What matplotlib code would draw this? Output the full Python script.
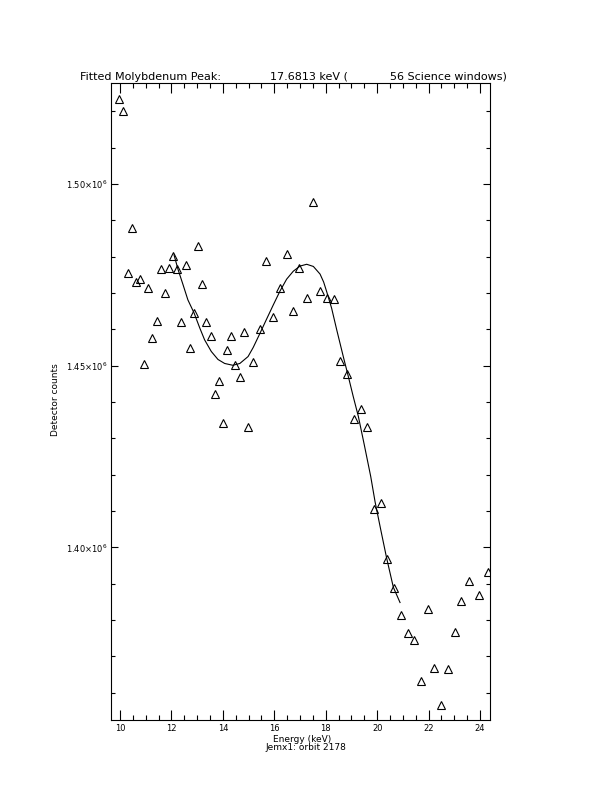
import numpy as np
import matplotlib

matplotlib.use('Agg')

import matplotlib.pyplot as plt
from matplotlib.ticker import MultipleLocator

# measured spectrum (keV, detector counts)
energy = [9.97, 10.13, 10.31, 10.47, 10.62, 10.78, 10.95, 11.10, 11.26, 11.43,
          11.60, 11.76, 11.92, 12.07, 12.23, 12.38, 12.55, 12.71, 12.88, 13.05,
          13.20, 13.36, 13.53, 13.68, 13.84, 14.00, 14.16, 14.33, 14.48, 14.66,
          14.81, 14.96, 15.17, 15.45, 15.69, 15.95, 16.22, 16.48, 16.74, 16.98,
          17.26, 17.52, 17.78, 18.04, 18.31, 18.57, 18.83, 19.10, 19.36, 19.61,
          19.88, 20.14, 20.40, 20.66, 20.92, 21.19, 21.45, 21.71, 21.97, 22.23,
          22.49, 22.76, 23.02, 23.28, 23.59, 23.95, 24.31]
counts = [1.5233, 1.5201, 1.4754, 1.4879, 1.4729, 1.4739, 1.4504, 1.4715, 1.4577, 1.4624,
          1.4767, 1.4699, 1.4770, 1.4802, 1.4766, 1.4619, 1.4776, 1.4548, 1.4646, 1.4828,
          1.4726, 1.4619, 1.4581, 1.4421, 1.4457, 1.4341, 1.4542, 1.4581, 1.4503, 1.4469,
          1.4592, 1.4330, 1.4509, 1.4600, 1.4788, 1.4633, 1.4714, 1.4806, 1.4650, 1.4768,
          1.4685, 1.4951, 1.4705, 1.4685, 1.4683, 1.4512, 1.4476, 1.4353, 1.4380, 1.4331,
          1.4105, 1.4122, 1.3967, 1.3888, 1.3814, 1.3765, 1.3745, 1.3633, 1.3831, 1.3669,
          1.3565, 1.3666, 1.3767, 1.3853, 1.3907, 1.3869, 1.3931]

# fitted curve
fit_energy = [12.10, 12.26, 12.45, 12.64, 12.88, 13.10, 13.29, 13.55, 13.81, 14.07,
              14.39, 14.66, 14.98, 15.18, 15.45, 15.70, 15.96, 16.22, 16.48, 16.74,
              17.00, 17.26, 17.52, 17.78, 17.92, 18.04, 18.23, 18.43, 18.69, 18.88, 19.07,
              19.27, 19.50, 19.75, 19.92, 20.15, 20.37, 20.63, 20.89]
fit_counts = [1.4805, 1.4764, 1.4723, 1.4681, 1.4645, 1.4604, 1.4571, 1.4539, 1.4517, 1.4506,
              1.4501, 1.4506, 1.4525, 1.4550, 1.4590, 1.4628, 1.4667, 1.4705, 1.4738, 1.4760,
              1.4774, 1.4779, 1.4773, 1.4752, 1.4730, 1.4703, 1.4658, 1.4598, 1.4523, 1.4470, 1.4415,
              1.4360, 1.4282, 1.4195, 1.4125, 1.4045, 1.3970, 1.3890, 1.3848]

ytick_vals = [1.40e6, 1.45e6, 1.50e6]
ytick_text = [r'1.40$\times$10$^{6}$', r'1.45$\times$10$^{6}$', r'1.50$\times$10$^{6}$']
xtick_vals = [10, 12, 14, 16, 18, 20, 22, 24]

plt.rcParams['font.family'] = ['DejaVu Sans']

fig = plt.figure(figsize=(6.12, 7.92), dpi=100)
ax = fig.add_axes([110.7 / 612, 72 / 792, 379.3 / 612, 636.7 / 792])

ax.plot(energy, np.array(counts) * 1e6, linestyle='none', marker='^',
        markersize=6, markerfacecolor='none', markeredgecolor='black', markeredgewidth=0.8)
ax.plot(fit_energy, np.array(fit_counts) * 1e6, color='black', linewidth=0.8)

ax.set_xlim(9.638, 24.389)
ax.set_ylim(1.35247e6, 1.52771e6)

ax.set_xticks(xtick_vals)
ax.set_xticklabels([str(v) for v in xtick_vals])
ax.xaxis.set_minor_locator(MultipleLocator(0.5))
ax.set_yticks(ytick_vals)
ax.set_yticklabels(ytick_text)
ax.yaxis.set_minor_locator(MultipleLocator(10000))

ax.tick_params(which='both', direction='in', top=True, right=True, width=0.8, labelsize=6)
ax.tick_params(axis='x', which='major', length=7.2, pad=3.2)
ax.tick_params(axis='x', which='minor', length=3.6)
ax.tick_params(axis='y', which='major', length=5.2, pad=1.8)
ax.tick_params(axis='y', which='minor', length=2.8)
for s in ax.spines.values():
    s.set_linewidth(0.8)

fig.text(80 / 612, 1 - 79.5 / 792, 'Fitted Molybdenum Peak:', fontsize=8, ha='left', va='baseline')
fig.text(270 / 612, 1 - 79.5 / 792, '17.6813 keV (', fontsize=8, ha='left', va='baseline')
fig.text(390 / 612, 1 - 79.5 / 792, '56 Science windows)', fontsize=8, ha='left', va='baseline')

fig.text(302 / 612, 1 - 739.5 / 792, 'Energy (keV)', fontsize=6.5, ha='center', va='center')
fig.text(306 / 612, 1 - 747.5 / 792, 'Jemx1: orbit 2178', fontsize=6.5, ha='center', va='center')
fig.text(55 / 612, 1 - 400 / 792, 'Detector counts', fontsize=6.5, rotation=90, ha='center', va='center')

plt.savefig('out.png', dpi=100)
